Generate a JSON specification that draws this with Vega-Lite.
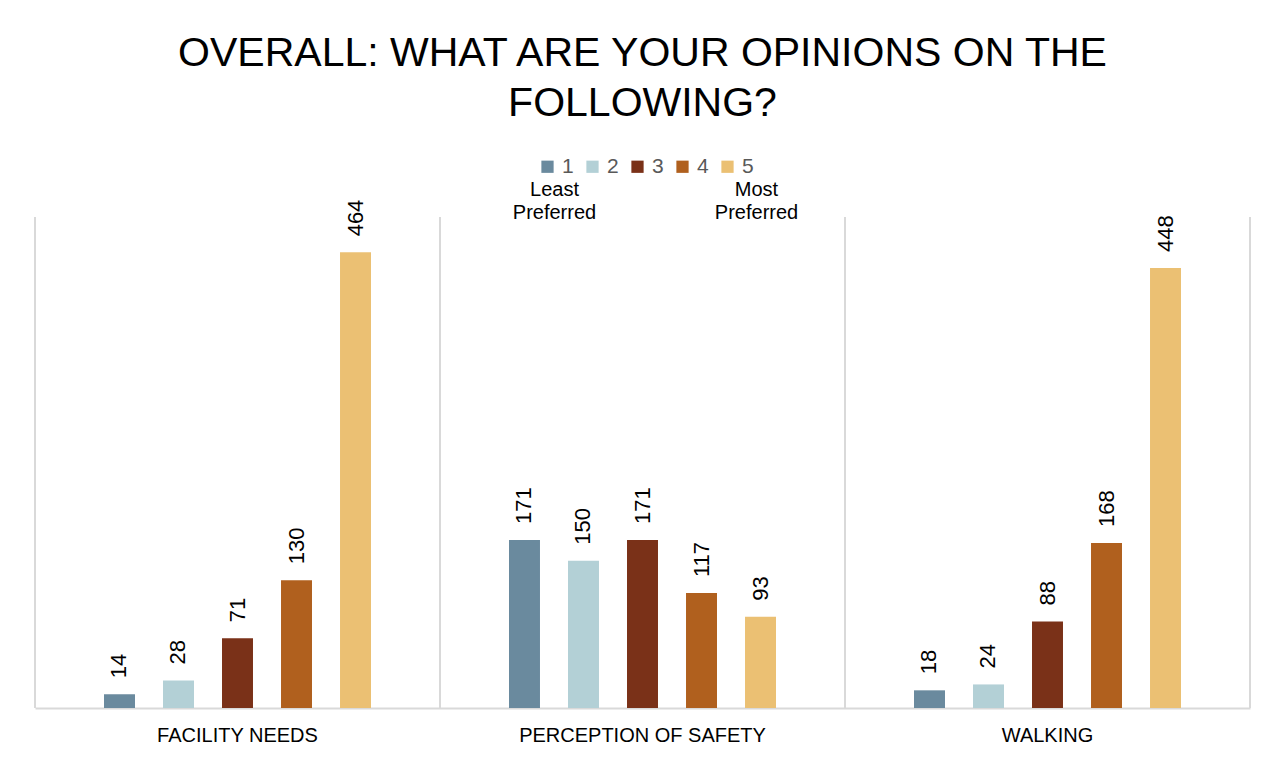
{
  "$schema": "https://vega.github.io/schema/vega-lite/v6.json",
  "width": 1215,
  "height": 491,
  "autosize": {"type": "none"},
  "padding": {"left": 35, "top": 217, "right": 28, "bottom": 53},
  "background": "white",
  "config": {"view": {"stroke": null}, "font": "Liberation Sans"},
  "title": {
    "text": ["OVERALL: WHAT ARE YOUR OPINIONS ON THE", "FOLLOWING?"],
    "anchor": "middle",
    "frame": "group",
    "fontSize": 41,
    "font": "Liberation Sans",
    "fontWeight": "normal",
    "color": "#000000",
    "lineHeight": 50,
    "baseline": "bottom",
    "offset": -10
  },
  "data": {
    "values": [
      {"category": "FACILITY NEEDS", "rating": "1", "value": 14},
      {"category": "FACILITY NEEDS", "rating": "2", "value": 28},
      {"category": "FACILITY NEEDS", "rating": "3", "value": 71},
      {"category": "FACILITY NEEDS", "rating": "4", "value": 130},
      {"category": "FACILITY NEEDS", "rating": "5", "value": 464},
      {"category": "PERCEPTION OF SAFETY", "rating": "1", "value": 171},
      {"category": "PERCEPTION OF SAFETY", "rating": "2", "value": 150},
      {"category": "PERCEPTION OF SAFETY", "rating": "3", "value": 171},
      {"category": "PERCEPTION OF SAFETY", "rating": "4", "value": 117},
      {"category": "PERCEPTION OF SAFETY", "rating": "5", "value": 93},
      {"category": "WALKING", "rating": "1", "value": 18},
      {"category": "WALKING", "rating": "2", "value": 24},
      {"category": "WALKING", "rating": "3", "value": 88},
      {"category": "WALKING", "rating": "4", "value": 168},
      {"category": "WALKING", "rating": "5", "value": 448}
    ]
  },
  "encoding": {
    "x": {
      "field": "category",
      "type": "nominal",
      "scale": {"domain": ["FACILITY NEEDS", "PERCEPTION OF SAFETY", "WALKING"], "paddingInner": 0, "paddingOuter": 0},
      "axis": {
        "title": null,
        "labelAngle": 0,
        "ticks": false,
        "domainColor": "#D9D9D9",
        "domainWidth": 2,
        "labelFontSize": 20,
        "labelFont": "Liberation Sans",
        "labelColor": "#000000",
        "labelPadding": 17,
        "labelLimit": 0,
        "grid": false
      }
    }
  },
  "layer": [
    {
      "transform": [{"aggregate": [{"op": "count", "as": "n"}], "groupby": ["category"]}],
      "mark": {"type": "rule", "color": "#D9D9D9", "strokeWidth": 2},
      "encoding": {"x": {"field": "category", "type": "nominal", "bandPosition": 0}}
    },
    {
      "transform": [{"aggregate": [{"op": "count", "as": "n"}], "groupby": ["category"]}],
      "mark": {"type": "rule", "color": "#D9D9D9", "strokeWidth": 2},
      "encoding": {"x": {"field": "category", "type": "nominal", "bandPosition": 1}}
    },
    {
      "mark": {"type": "bar"},
      "encoding": {
        "xOffset": {
          "field": "rating",
          "type": "nominal",
          "scale": {"domain": ["1", "2", "3", "4", "5"], "range": [69, 336], "paddingInner": 0.475, "paddingOuter": 0}
        },
        "y": {
          "field": "value",
          "type": "quantitative",
          "scale": {"domain": [0, 500], "nice": false},
          "axis": null
        },
        "color": {
          "field": "rating",
          "type": "nominal",
          "scale": {
            "domain": ["1", "2", "3", "4", "5"],
            "range": ["#6A8A9E", "#B3D0D6", "#7A3118", "#B0601E", "#EBC073"]
          },
          "legend": {
            "orient": "none",
            "direction": "horizontal",
            "legendX": 502,
            "legendY": -61,
            "title": null,
            "symbolType": "square",
            "symbolSize": 150,
            "symbolStrokeWidth": 0,
            "labelFontSize": 21,
            "labelFont": "Liberation Sans",
            "labelColor": "#595959",
            "columnPadding": 8,
            "labelOffset": 4
          }
        }
      }
    },
    {
      "mark": {"type": "text", "angle": 270, "align": "left", "baseline": "middle", "dx": 16, "fontSize": 22, "font": "Liberation Sans", "color": "#000000"},
      "encoding": {
        "xOffset": {"field": "rating", "type": "nominal"},
        "y": {"field": "value", "type": "quantitative"},
        "text": {"field": "value", "type": "quantitative"}
      }
    },
    {
      "data": {"values": [{"category": "PERCEPTION OF SAFETY", "rating": "1", "note": "Least\nPreferred"}]},
      "mark": {"type": "text", "align": "center", "baseline": "alphabetic", "lineBreak": "\n", "lineHeight": 23, "dx": 30, "dy": -21, "fontSize": 20, "font": "Liberation Sans", "color": "#000000"},
      "encoding": {
        "xOffset": {"field": "rating", "type": "nominal"},
        "y": {"datum": 500},
        "text": {"field": "note", "type": "nominal"}
      }
    },
    {
      "data": {"values": [{"category": "PERCEPTION OF SAFETY", "rating": "5", "note": "Most\nPreferred"}]},
      "mark": {"type": "text", "align": "center", "baseline": "alphabetic", "lineBreak": "\n", "lineHeight": 23, "dx": -4, "dy": -21, "fontSize": 20, "font": "Liberation Sans", "color": "#000000"},
      "encoding": {
        "xOffset": {"field": "rating", "type": "nominal"},
        "y": {"datum": 500},
        "text": {"field": "note", "type": "nominal"}
      }
    }
  ]
}
